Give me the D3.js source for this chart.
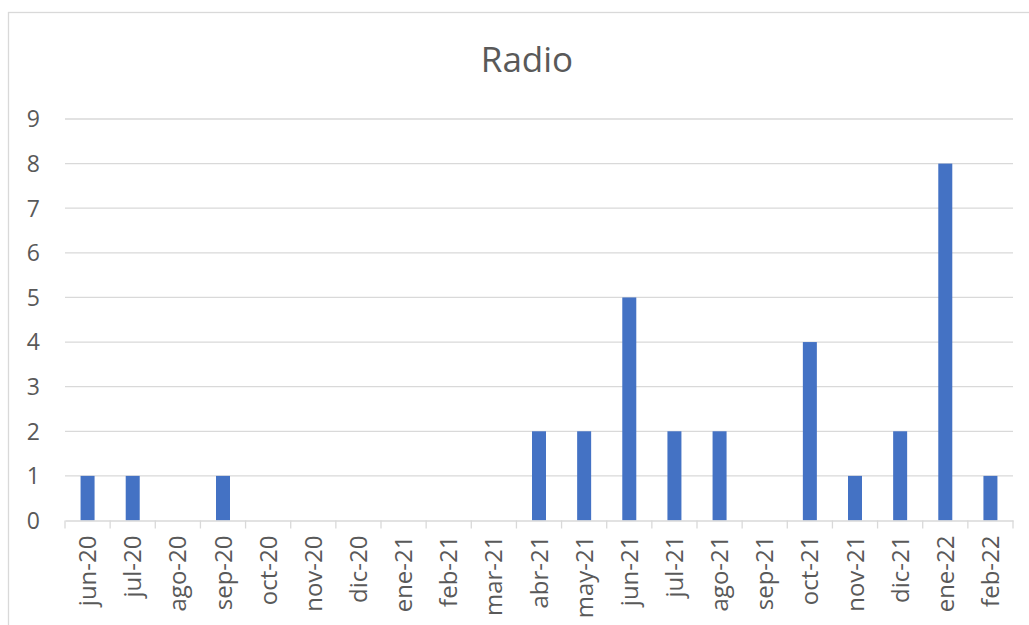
<!DOCTYPE html>
<html><head><meta charset="utf-8">
<script src="https://cdn.jsdelivr.net/npm/d3@7"></script>
<style>body{margin:0;background:#fff}svg{display:block}</style>
</head><body><svg id="c" width="1029" height="625"></svg>
<script>
const categories = ["jun-20","jul-20","ago-20","sep-20","oct-20","nov-20","dic-20","ene-21","feb-21","mar-21","abr-21","may-21","jun-21","jul-21","ago-21","sep-21","oct-21","nov-21","dic-21","ene-22","feb-22"];
const values = [1,1,0,1,0,0,0,0,0,0,2,2,5,2,2,0,4,1,2,8,1];
const yTicks = [0,1,2,3,4,5,6,7,8,9];
const title = "Radio";

(function(){
const svg = d3.select("#c");
const font = "'Open Sans', sans-serif";
const textColor = "#595959";
const pLeft = 65, pRight = 1013, pTop = 119, pBottom = 520.5;

// frame
svg.append("rect").attr("x",8.5).attr("y",12.5).attr("width",1040).attr("height",640)
  .attr("fill","#fff").attr("stroke","#d9d9d9").attr("stroke-width",1.3);

const x = d3.scaleBand().domain(categories).range([pLeft,pRight]).paddingInner(0).paddingOuter(0);
const y = d3.scaleLinear().domain([0,9]).range([pBottom,pTop]);

// gridlines
svg.append("g").selectAll("line").data(yTicks.filter(d=>d>0)).join("line")
  .attr("x1",pLeft).attr("x2",pRight).attr("y1",d=>y(d)).attr("y2",d=>y(d))
  .attr("stroke","#d9d9d9").attr("stroke-width",1.3);

// y labels
svg.append("g").selectAll("text").data(yTicks).join("text")
  .attr("x",40).attr("y",d=>y(d)).attr("dy","0.36em").attr("text-anchor","end")
  .attr("font-family",font).attr("font-size",23).attr("fill",textColor).text(d=>d);

// bars
const bw = 14;
svg.append("g").selectAll("rect").data(categories.map((c,i)=>({c,v:values[i]})).filter(d=>d.v>0)).join("rect")
  .attr("x",d=>x(d.c)+x.bandwidth()/2-bw/2).attr("width",bw)
  .attr("y",d=>y(d.v)).attr("height",d=>y(0)-y(d.v)).attr("fill","#4472c4");

// x axis
const xAxis = d3.axisBottom(x).tickSize(0).tickFormat(d=>d);
const gx = svg.append("g").attr("transform",`translate(0,${pBottom})`).call(xAxis);
gx.select(".domain").attr("stroke","#d9d9d9").attr("stroke-width",1.3);
gx.selectAll(".tick text").attr("font-family",font).attr("font-size",24).attr("fill",textColor)
  .attr("transform","rotate(-90)").attr("text-anchor","end").attr("x",-15).attr("y",0).attr("dy","0.36em");
// category boundary ticks
svg.append("g").selectAll("line").data(d3.range(categories.length+1)).join("line")
  .attr("x1",i=>pLeft+i*x.step()).attr("x2",i=>pLeft+i*x.step())
  .attr("y1",pBottom).attr("y2",pBottom+8).attr("stroke","#d9d9d9").attr("stroke-width",1.3);

// title
svg.append("text").attr("x",527).attr("y",72).attr("text-anchor","middle")
  .attr("font-family",font).attr("font-size",35).attr("fill",textColor).text(title);
})();
</script></body></html>
